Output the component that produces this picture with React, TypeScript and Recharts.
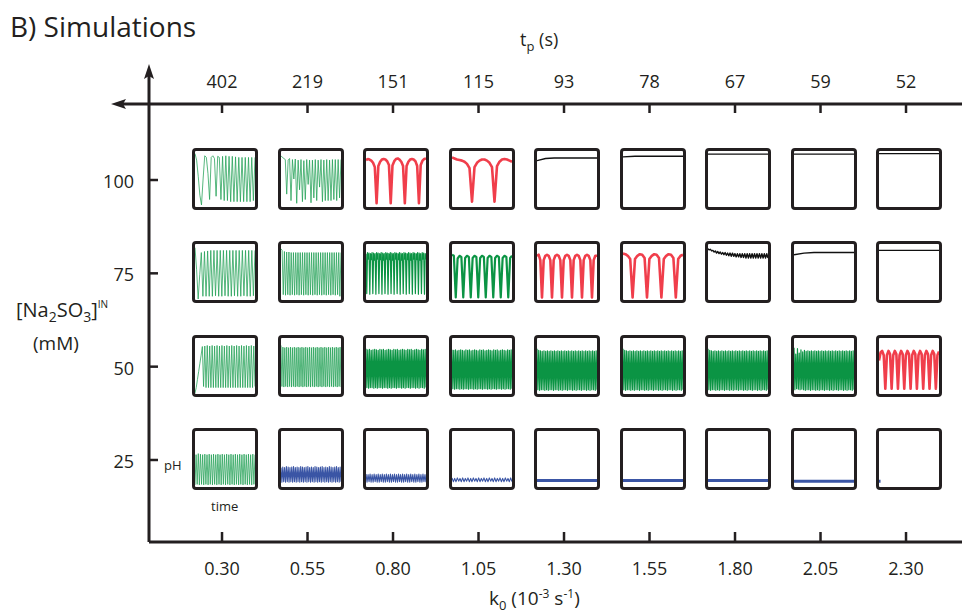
import { ComposedChart, LineChart, Line, XAxis, YAxis } from 'recharts';

// axes
const K0 = [0.3, 0.55, 0.8, 1.05, 1.3, 1.55, 1.8, 2.05, 2.3];
const K0_LABELS = ['0.30', '0.55', '0.80', '1.05', '1.30', '1.55', '1.80', '2.05', '2.30'];
const TP_LABELS = ['402', '219', '151', '115', '93', '78', '67', '59', '52'];
const CONC = [100, 75, 50, 25];

// pH traces, scaled 0 (panel bottom) .. 1 (panel top)
const r100c1 = [0.97, 0.85, 0.55, 0.2, 0.02, 0.5, 0.93, 0.9, 0.6, 0.12, 0.9, 0.93, 0.88, 0.18, 0.92, 0.9, 0.12, 0.92, 0.1, 0.93, 0.1, 0.92, 0.08, 0.92, 0.08, 0.91, 0.08, 0.9, 0.08, 0.9, 0.08, 0.9, 0.08, 0.9, 0.08, 0.9, 0.1, 0.9];
const r100c2 = [0.93, 0.9, 0.88, 0.86, 0.22, 0.85, 0.88, 0.1, 0.86, 0.5, 0.87, 0.05, 0.85, 0.3, 0.86, 0.08, 0.84, 0.12, 0.86, 0.4, 0.85, 0.06, 0.85, 0.15, 0.86, 0.1, 0.85, 0.35, 0.86, 0.08, 0.85, 0.1, 0.86, 0.1, 0.85, 0.1, 0.86, 0.12, 0.86, 0.1, 0.86, 0.15, 0.86];
const r100c3 = [0.85, 0.87, 0.86, 0.84, 0.8, 0.72, 0.05, 0.74, 0.82, 0.86, 0.87, 0.86, 0.83, 0.76, 0.05, 0.75, 0.83, 0.87, 0.88, 0.86, 0.82, 0.74, 0.05, 0.74, 0.82, 0.86, 0.87, 0.86, 0.83, 0.74, 0.05, 0.76, 0.84, 0.87, 0.88];
const r100c4 = [0.9, 0.88, 0.86, 0.85, 0.84, 0.82, 0.78, 0.7, 0.08, 0.72, 0.8, 0.84, 0.86, 0.86, 0.84, 0.8, 0.72, 0.08, 0.74, 0.82, 0.86, 0.87, 0.86, 0.84, 0.82];
const r100c5 = [0.84, 0.88, 0.89, 0.89, 0.89, 0.89, 0.89, 0.89];
const r100c6 = [0.91, 0.92, 0.92, 0.92, 0.92, 0.92];
const r100c7 = [0.96, 0.96, 0.96, 0.96, 0.96];
const r100c8 = [0.96, 0.96, 0.96, 0.96, 0.96];
const r100c9 = [0.97, 0.97, 0.97, 0.97, 0.97];

const r75c1 = [0.95, 0.55, 0.0, 0.45, 0.86, 0.05, 0.88, 0.05, 0.89, 0.05, 0.9, 0.05, 0.9, 0.06, 0.9, 0.05, 0.9, 0.05, 0.9, 0.06, 0.9, 0.05, 0.9, 0.05, 0.9, 0.06, 0.9, 0.05, 0.9, 0.05, 0.9, 0.06, 0.9, 0.05, 0.9, 0.05, 0.9, 0.06, 0.9];
const r75c2 = [0.93, 0.9, 0.08, 0.88, 0.07, 0.87, 0.08, 0.87, 0.07, 0.86, 0.08, 0.86, 0.07, 0.86, 0.08, 0.86, 0.07, 0.86, 0.08, 0.86, 0.07, 0.86, 0.08, 0.86, 0.07, 0.86, 0.08, 0.86, 0.07, 0.86, 0.08, 0.86, 0.07, 0.86, 0.08, 0.86, 0.07, 0.86, 0.08, 0.86, 0.07, 0.86, 0.08, 0.86, 0.07, 0.86, 0.08, 0.86, 0.07, 0.86, 0.08, 0.86, 0.05, 0.86];
const r75c3 = [0.84, 0.1, 0.86, 0.74, 0.85, 0.09, 0.84, 0.73, 0.86, 0.1, 0.85, 0.72, 0.84, 0.09, 0.86, 0.74, 0.85, 0.1, 0.84, 0.73, 0.86, 0.09, 0.85, 0.72, 0.84, 0.1, 0.86, 0.74, 0.85, 0.09, 0.84, 0.73, 0.86, 0.1, 0.85, 0.72, 0.84, 0.09, 0.86, 0.74, 0.85, 0.1, 0.84, 0.73, 0.86, 0.09, 0.85, 0.72, 0.84, 0.1, 0.86, 0.74, 0.85, 0.09, 0.84, 0.73, 0.86, 0.1, 0.85, 0.72, 0.84, 0.09, 0.86, 0.74, 0.85, 0.1, 0.84, 0.73, 0.86, 0.09, 0.85, 0.72, 0.84, 0.1, 0.86, 0.74, 0.85, 0.09, 0.84, 0.73];
const r75c4 = [0.82, 0.8, 0.03, 0.75, 0.8, 0.78, 0.03, 0.76, 0.8, 0.78, 0.03, 0.76, 0.8, 0.78, 0.03, 0.76, 0.8, 0.78, 0.03, 0.76, 0.8, 0.78, 0.03, 0.76, 0.8, 0.78, 0.03, 0.76, 0.8, 0.78, 0.03, 0.76, 0.8];
const r75c5 = [0.8, 0.82, 0.72, 0.03, 0.72, 0.8, 0.82, 0.8, 0.72, 0.03, 0.72, 0.8, 0.82, 0.8, 0.72, 0.03, 0.72, 0.8, 0.82, 0.8, 0.72, 0.03, 0.72, 0.8, 0.82, 0.8, 0.72, 0.03, 0.72, 0.8, 0.82, 0.8, 0.72, 0.03, 0.72, 0.8, 0.8];
const r75c6 = [0.84, 0.83, 0.8, 0.74, 0.03, 0.74, 0.8, 0.83, 0.82, 0.76, 0.03, 0.74, 0.8, 0.83, 0.82, 0.76, 0.03, 0.74, 0.8, 0.83, 0.82, 0.76, 0.03, 0.74, 0.8, 0.82];
const r75c7 = [0.93, 0.91, 0.92, 0.89, 0.9, 0.87, 0.89, 0.85, 0.88, 0.84, 0.87, 0.83, 0.86, 0.82, 0.86, 0.81, 0.85, 0.8, 0.85, 0.79, 0.85, 0.79, 0.84, 0.78, 0.84, 0.78, 0.84, 0.77, 0.84, 0.77, 0.84, 0.76, 0.84, 0.76, 0.84, 0.76, 0.84, 0.76, 0.84, 0.76, 0.84, 0.76, 0.84, 0.76, 0.84, 0.76, 0.84, 0.76, 0.84, 0.76];
const r75c8 = [0.82, 0.85, 0.86, 0.86, 0.86, 0.86, 0.86];
const r75c9 = [0.9, 0.9, 0.9, 0.9, 0.9];

const r50c1 = [0.0, 0.1, 0.25, 0.4, 0.55, 0.7, 0.86, 0.12, 0.87, 0.1, 0.88, 0.1, 0.87, 0.1, 0.88, 0.1, 0.87, 0.1, 0.88, 0.1, 0.87, 0.1, 0.88, 0.1, 0.87, 0.1, 0.88, 0.1, 0.87, 0.1, 0.88, 0.1, 0.87, 0.1, 0.88, 0.1, 0.87, 0.1, 0.88, 0.1, 0.87, 0.1, 0.88, 0.1, 0.87, 0.1, 0.88, 0.1, 0.87, 0.12];
const r50c2 = [0.88, 0.12, 0.85, 0.11, 0.84, 0.12, 0.85, 0.11, 0.84, 0.12, 0.85, 0.11, 0.84, 0.12, 0.85, 0.11, 0.84, 0.12, 0.85, 0.11, 0.84, 0.12, 0.85, 0.11, 0.84, 0.12, 0.85, 0.11, 0.84, 0.12, 0.85, 0.11, 0.84, 0.12, 0.85, 0.11, 0.84, 0.12, 0.85, 0.11, 0.84, 0.12, 0.85, 0.11, 0.84, 0.12, 0.85, 0.11, 0.84, 0.12, 0.85, 0.11, 0.84, 0.12, 0.85, 0.11, 0.84, 0.12, 0.85, 0.11, 0.84, 0.12, 0.85, 0.11];
const r50c3 = [0.82, 0.1, 0.8, 0.09, 0.81, 0.1, 0.79, 0.1, 0.8, 0.09, 0.81, 0.1, 0.8, 0.09, 0.79, 0.1, 0.81, 0.1, 0.8, 0.09, 0.81, 0.1, 0.79, 0.1, 0.8, 0.09, 0.81, 0.1, 0.8, 0.09, 0.79, 0.1, 0.81, 0.1, 0.8, 0.09, 0.81, 0.1, 0.79, 0.1, 0.8, 0.09, 0.81, 0.1, 0.8, 0.09, 0.79, 0.1, 0.81, 0.1, 0.8, 0.09, 0.81, 0.1, 0.79, 0.1, 0.8, 0.09, 0.81, 0.1, 0.8, 0.09, 0.79, 0.1, 0.81, 0.1, 0.8, 0.09, 0.81, 0.1];
const r50c4 = [0.8, 0.08, 0.79, 0.07, 0.8, 0.08, 0.78, 0.08, 0.79, 0.07, 0.8, 0.08, 0.79, 0.07, 0.78, 0.08, 0.8, 0.08, 0.79, 0.07, 0.8, 0.08, 0.78, 0.08, 0.79, 0.07, 0.8, 0.08, 0.79, 0.07, 0.78, 0.08, 0.8, 0.08, 0.79, 0.07, 0.8, 0.08, 0.78, 0.08, 0.79, 0.07, 0.8, 0.08, 0.79, 0.07, 0.78, 0.08, 0.8, 0.08, 0.79, 0.07, 0.8, 0.08, 0.78, 0.08, 0.79, 0.07, 0.8, 0.08, 0.79, 0.07, 0.78, 0.08, 0.8, 0.08, 0.79, 0.07, 0.8, 0.08];
const band50 = [0.82, 0.06, 0.79, 0.05, 0.78, 0.06, 0.77, 0.06, 0.78, 0.05, 0.77, 0.06, 0.78, 0.05, 0.77, 0.06, 0.78, 0.06, 0.77, 0.05, 0.78, 0.06, 0.77, 0.06, 0.78, 0.05, 0.77, 0.06, 0.78, 0.05, 0.77, 0.06, 0.78, 0.06, 0.77, 0.05, 0.78, 0.06, 0.77, 0.06, 0.78, 0.05, 0.77, 0.06, 0.78, 0.05, 0.77, 0.06, 0.78, 0.06, 0.77, 0.05, 0.78, 0.06, 0.77, 0.06, 0.78, 0.05, 0.77, 0.06, 0.78, 0.05, 0.77, 0.06, 0.78, 0.06, 0.77, 0.05, 0.78, 0.06];
const r50c8 = [0.84, 0.06, 0.72, 0.08, 0.82, 0.07, 0.74, 0.06, 0.8, 0.07, 0.76, 0.06, 0.79, 0.05, 0.77, 0.06, 0.78, 0.06, 0.77, 0.05, 0.78, 0.06, 0.77, 0.06, 0.78, 0.05, 0.77, 0.06, 0.78, 0.05, 0.77, 0.06, 0.78, 0.06, 0.77, 0.05, 0.78, 0.06, 0.77, 0.06, 0.78, 0.05, 0.77, 0.06, 0.78, 0.05, 0.77, 0.06, 0.78, 0.06, 0.77, 0.05, 0.78, 0.06, 0.77, 0.06, 0.78, 0.05, 0.77, 0.06, 0.78, 0.05, 0.77, 0.06, 0.78, 0.06, 0.77, 0.05, 0.78, 0.06];
const r50c9 = [0.6, 0.75, 0.78, 0.7, 0.08, 0.7, 0.78, 0.72, 0.08, 0.7, 0.78, 0.72, 0.08, 0.7, 0.78, 0.72, 0.08, 0.7, 0.78, 0.72, 0.08, 0.7, 0.78, 0.72, 0.08, 0.7, 0.78, 0.72, 0.08, 0.7, 0.78, 0.72, 0.08, 0.7, 0.78, 0.72, 0.08, 0.7, 0.77];

const r25c1 = [0.02, 0.58, 0.03, 0.6, 0.02, 0.59, 0.03, 0.58, 0.02, 0.59, 0.03, 0.58, 0.02, 0.59, 0.03, 0.58, 0.02, 0.59, 0.03, 0.58, 0.02, 0.59, 0.03, 0.58, 0.02, 0.59, 0.03, 0.58, 0.02, 0.59, 0.03, 0.58, 0.02, 0.59, 0.03, 0.58, 0.02, 0.59, 0.03, 0.58, 0.02, 0.59, 0.03, 0.58, 0.02, 0.59, 0.03, 0.58, 0.02, 0.59, 0.03, 0.58, 0.02, 0.59, 0.03, 0.58];
const r25c2 = [0.34, 0.07, 0.35, 0.08, 0.34, 0.07, 0.36, 0.08, 0.35, 0.07, 0.34, 0.08, 0.35, 0.07, 0.36, 0.08, 0.34, 0.07, 0.35, 0.08, 0.34, 0.07, 0.36, 0.08, 0.35, 0.07, 0.34, 0.08, 0.35, 0.07, 0.36, 0.08, 0.34, 0.07, 0.35, 0.08, 0.34, 0.07, 0.36, 0.08, 0.35, 0.07, 0.34, 0.08, 0.35, 0.07, 0.36, 0.08, 0.34, 0.07, 0.35, 0.08, 0.34, 0.07, 0.36, 0.08, 0.35, 0.07, 0.34, 0.08, 0.35, 0.07, 0.36, 0.08, 0.34, 0.07, 0.35, 0.08];
const r25c3 = [0.22, 0.07, 0.21, 0.08, 0.22, 0.07, 0.21, 0.07, 0.22, 0.08, 0.21, 0.07, 0.22, 0.07, 0.21, 0.08, 0.22, 0.07, 0.21, 0.07, 0.22, 0.08, 0.21, 0.07, 0.22, 0.07, 0.21, 0.08, 0.22, 0.07, 0.21, 0.07, 0.22, 0.08, 0.21, 0.07, 0.22, 0.07, 0.21, 0.08, 0.22, 0.07, 0.21, 0.07, 0.22, 0.08, 0.21, 0.07, 0.22, 0.07, 0.21, 0.08, 0.22, 0.07, 0.21, 0.07, 0.22, 0.08, 0.21, 0.07];
const r25c4 = [0.15, 0.08, 0.14, 0.08, 0.15, 0.09, 0.14, 0.08, 0.15, 0.08, 0.14, 0.09, 0.15, 0.08, 0.14, 0.08, 0.15, 0.09, 0.14, 0.08, 0.15, 0.08, 0.14, 0.09, 0.15, 0.08, 0.14, 0.08, 0.15, 0.09, 0.14, 0.08, 0.15, 0.08, 0.14, 0.09, 0.15, 0.08, 0.14, 0.08, 0.15, 0.09, 0.14, 0.08, 0.15, 0.08];
const r25c5 = [0.1, 0.1, 0.1, 0.1, 0.1];
const r25c6 = [0.1, 0.1, 0.1, 0.1, 0.1];
const r25c7 = [0.1, 0.1, 0.1, 0.1, 0.1];
const r25c8 = [0.09, 0.09, 0.09, 0.09, 0.09];
const r25c9 = [0.09, 0.09, null, null, null, null, null, null, null, null, null, null, null, null, null, null, null, null, null, null, null, null, null, null, null, null, null, null, null, null, null, null, null, null, null, null, null, null, null, null];

const ROWS = [
  [r100c1, r100c2, r100c3, r100c4, r100c5, r100c6, r100c7, r100c8, r100c9],
  [r75c1, r75c2, r75c3, r75c4, r75c5, r75c6, r75c7, r75c8, r75c9],
  [r50c1, r50c2, r50c3, r50c4, band50, band50, band50, r50c8, r50c9],
  [r25c1, r25c2, r25c3, r25c4, r25c5, r25c6, r25c7, r25c8, r25c9],
];

// trace style per panel: L light green, D dark green, G thick green, R red, K black, B blue, T thick blue
const KINDS = [
  ['L', 'L', 'R', 'R', 'K', 'K', 'K', 'K', 'K'],
  ['L', 'L', 'D', 'G', 'R', 'R', 'K', 'K', 'K'],
  ['L', 'L', 'D', 'D', 'D', 'D', 'D', 'D', 'R'],
  ['L', 'B', 'B', 'B', 'T', 'T', 'T', 'T', 'T'],
];

const STYLE: Record<string, { stroke: string; width: number; opacity: number }> = {
  L: { stroke: '#22a055', width: 0.9, opacity: 0.85 },
  D: { stroke: '#0b9444', width: 1.2, opacity: 1 },
  G: { stroke: '#0b9444', width: 2.2, opacity: 1 },
  R: { stroke: '#ed1c2b', width: 2.6, opacity: 0.85 },
  K: { stroke: '#111', width: 1.4, opacity: 1 },
  B: { stroke: '#3a55a5', width: 1.1, opacity: 1 },
  T: { stroke: '#3a55a5', width: 3, opacity: 1 },
};

const W = 962;
const H = 615;
const PLOT = { left: 149, right: 962, top: 104, bottom: 542 };
const X_DOMAIN: [number, number] = [0.0865, 2.4637];
const Y_DOMAIN: [number, number] = [3.03, 120.36];
const INK = '#231f20';
const FONT = '"Open Sans", sans-serif';
const PANEL_W = 66;
const PANEL_H = 62;

const xPos = (k: number) =>
  PLOT.left + ((k - X_DOMAIN[0]) / (X_DOMAIN[1] - X_DOMAIN[0])) * (PLOT.right - PLOT.left);
const yPos = (c: number) =>
  PLOT.bottom - ((c - Y_DOMAIN[0]) / (Y_DOMAIN[1] - Y_DOMAIN[0])) * (PLOT.bottom - PLOT.top);

function TopTick(props: any) {
  const { x, y, index } = props;
  return (
    <g>
      <line x1={x} x2={x} y1={y} y2={y + 9} stroke={INK} strokeWidth={2.5} />
      <text x={x} y={y - 16} textAnchor="middle" fontSize={18} fontFamily={FONT} fill={INK}>
        {TP_LABELS[index]}
      </text>
    </g>
  );
}

function BottomTick(props: any) {
  const { x, y, index } = props;
  return (
    <g>
      <line x1={x} x2={x} y1={y - 10} y2={y} stroke={INK} strokeWidth={2.5} />
      <text x={x} y={y + 33} textAnchor="middle" fontSize={18} fontFamily={FONT} fill={INK}>
        {K0_LABELS[index]}
      </text>
    </g>
  );
}

function LeftTick(props: any) {
  const { x, y, payload } = props;
  return (
    <g>
      <line x1={x} x2={x + 9} y1={y} y2={y} stroke={INK} strokeWidth={2.5} />
      <text x={x - 15} y={y + 8} textAnchor="end" fontSize={18} fontFamily={FONT} fill={INK}>
        {payload.value}
      </text>
    </g>
  );
}

function Panel({ values, kind, left, top }: { values: (number | null)[]; kind: string; left: number; top: number }) {
  const s = STYLE[kind];
  const data = values.map((v, i) => ({ i, v }));
  return (
    <div
      style={{
        position: 'absolute',
        left,
        top,
        width: PANEL_W,
        height: PANEL_H,
        boxSizing: 'border-box',
        border: `3px solid ${INK}`,
        borderRadius: 4,
        background: '#fff',
        overflow: 'hidden',
      }}
    >
      <LineChart width={PANEL_W - 6} height={PANEL_H - 6} data={data} margin={{ top: 1, right: 0, bottom: 1, left: 0 }}>
        <XAxis hide type="number" dataKey="i" domain={[0, values.length - 1]} />
        <YAxis hide type="number" domain={[0, 1]} />
        <Line
          dataKey="v"
          stroke={s.stroke}
          strokeWidth={s.width}
          strokeOpacity={s.opacity}
          dot={false}
          isAnimationActive={false}
          strokeLinejoin="round"
        />
      </LineChart>
    </div>
  );
}

export default function App() {
  const axisLine = { stroke: INK, strokeWidth: 3 };
  return (
    <div style={{ position: 'absolute', left: 0, top: 0, width: W, height: H, background: '#fff' }}>
      <ComposedChart width={W} height={H} data={K0.map((k) => ({ k }))} margin={{ top: 0, right: 0, bottom: 0, left: 0 }}>
        <XAxis
          xAxisId="bottom"
          orientation="bottom"
          type="number"
          dataKey="k"
          domain={X_DOMAIN}
          ticks={K0}
          interval={0}
          height={H - PLOT.bottom}
          allowDataOverflow
          axisLine={axisLine}
          tickLine={false}
          tickSize={0}
          tickMargin={0}
          tick={(p: any) => <BottomTick {...p} />}
        />
        <XAxis
          xAxisId="top"
          orientation="top"
          type="number"
          dataKey="k"
          domain={X_DOMAIN}
          ticks={K0}
          interval={0}
          height={PLOT.top}
          allowDataOverflow
          axisLine={axisLine}
          tickLine={false}
          tickSize={0}
          tickMargin={0}
          tick={(p: any) => <TopTick {...p} />}
        />
        <YAxis
          yAxisId="left"
          type="number"
          domain={Y_DOMAIN}
          ticks={CONC}
          interval={0}
          width={PLOT.left}
          allowDataOverflow
          axisLine={axisLine}
          tickLine={false}
          tickSize={0}
          tickMargin={0}
          tick={(p: any) => <LeftTick {...p} />}
        />
      </ComposedChart>

      {ROWS.map((row, r) =>
        row.map((values, c) => (
          <Panel
            key={`${r}-${c}`}
            values={values}
            kind={KINDS[r][c]}
            left={xPos(K0[c]) + 3 - PANEL_W / 2}
            top={yPos(CONC[r]) - 1 - PANEL_H / 2}
          />
        ))
      )}

      <svg width={W} height={H} style={{ position: 'absolute', left: 0, top: 0, pointerEvents: 'none' }}>
        {/* axis extensions with arrows */}
        <line x1={PLOT.left} x2={PLOT.left} y1={74} y2={PLOT.top} stroke={INK} strokeWidth={3} />
        <polygon points={`${PLOT.left},64 ${PLOT.left + 5},79 ${PLOT.left},76 ${PLOT.left - 5},79`} fill={INK} />
        <line x1={122} x2={PLOT.left} y1={PLOT.top} y2={PLOT.top} stroke={INK} strokeWidth={3} />
        <polygon points={`111,${PLOT.top} 126,${PLOT.top - 5} 123,${PLOT.top} 126,${PLOT.top + 5}`} fill={INK} />

        <text x={10} y={37} fontSize={28} fontFamily={FONT} fill={INK}>
          B) Simulations
        </text>

        <text x={520} y={46} fontSize={18} fontFamily={FONT} fill={INK}>
          t<tspan fontSize={13} dy={5}>p</tspan>
          <tspan dy={-5}> (s)</tspan>
        </text>

        <text x={489} y={605} fontSize={19} fontFamily={FONT} fill={INK}>
          k<tspan fontSize={13} dy={5}>0</tspan>
          <tspan dy={-5}> (10</tspan>
          <tspan fontSize={12} dy={-7}>-3</tspan>
          <tspan dy={7}> s</tspan>
          <tspan fontSize={12} dy={-7}>-1</tspan>
          <tspan dy={7}>)</tspan>
        </text>

        <text x={16} y={317} fontSize={20} fontFamily={FONT} fill={INK}>
          [Na<tspan fontSize={14} dy={5}>2</tspan>
          <tspan dy={-5}>SO</tspan>
          <tspan fontSize={14} dy={5}>3</tspan>
          <tspan dy={-5}>]</tspan>
          <tspan fontSize={10} dy={-9}>IN</tspan>
        </text>
        <text x={33} y={350} fontSize={19} fontFamily={FONT} fill={INK}>
          (mM)
        </text>

        <text x={164} y={470} fontSize={13} fontFamily={FONT} fill={INK}>
          pH
        </text>
        <text x={211} y={511} fontSize={13} fontFamily={FONT} fill={INK}>
          time
        </text>
      </svg>
    </div>
  );
}
